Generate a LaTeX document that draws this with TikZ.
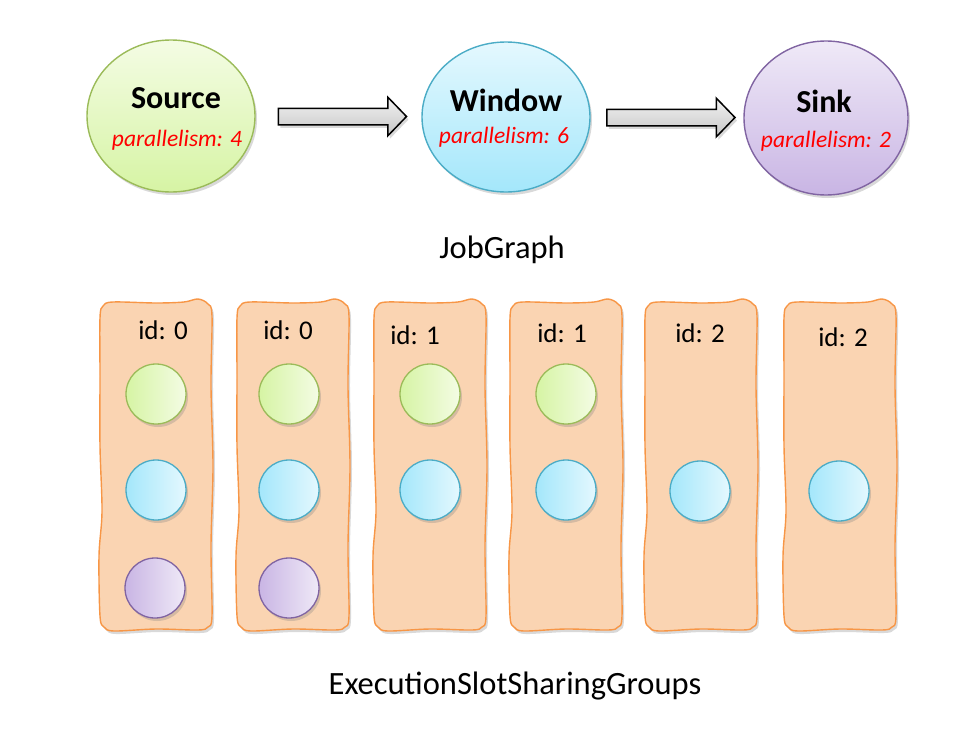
\documentclass[tikz,border=0pt]{standalone}
\usepackage{fontspec}
\setmainfont{Carlito}
\usetikzlibrary{shapes.geometric,shapes.arrows,shadows}

\definecolor{grnline}{HTML}{9BBB59}
\definecolor{grnlite}{HTML}{F4FCE4}
\definecolor{grndark}{HTML}{D6F4A4}
\definecolor{bluline}{HTML}{4BACC6}
\definecolor{blulite}{HTML}{E4F8FE}
\definecolor{bludark}{HTML}{A4E7FB}
\definecolor{purline}{HTML}{8064A2}
\definecolor{purlite}{HTML}{EFE9F7}
\definecolor{purdark}{HTML}{C9B5E4}
\definecolor{slotfill}{HTML}{FAD4B2}
\definecolor{slotline}{HTML}{F79646}

\tikzset{
  softshadow/.style={drop shadow={shadow xshift=2pt, shadow yshift=-3pt, opacity=0.3}},
  jobnode/.style={ellipse, draw, line width=1.4pt, inner sep=0pt, softshadow},
  task/.style={circle, draw, line width=1.3pt, minimum size=60pt, inner sep=0pt, softshadow},
  slotarea/.style={rectangle, minimum width=112pt, minimum height=328pt, inner sep=0pt},
  slotedge/.style={draw=slotline, fill=slotfill, line width=1.4pt, softshadow},
  fatarrow/.style={single arrow, draw=black, line width=1.5pt, inner sep=0pt,
    text height=15pt, text depth=0pt, text width=0pt,
    single arrow head extend=11pt, single arrow tip angle=92,
    minimum height=128pt, top color=gray!10, bottom color=gray!45, softshadow},
  jobtitle/.style={font=\fontsize{32}{32}\selectfont\bfseries},
  partext/.style={text=red, font=\fontsize{23.5}{23.5}\selectfont\itshape},
  idtext/.style={font=\fontsize{27}{27}\selectfont},
  caption/.style={font=\fontsize{32.5}{32.5}\selectfont},
}

% name, x, label x, label y, label
\newcommand\mkslot[5]{\node[slotarea] (#1) at (#2,466) {};
  \draw[slotedge, shift={(#1.center)}] plot[smooth cycle, tension=0.55] coordinates {
    (-56,-148) (-53,-160) (-43,-164) (0,-163) (28,-164) (42,-167) (52,-162) (56,-150)
    (55,-80) (57,0) (55,80) (56,150) (52,161) (42,164) (0,163) (-42,165) (-52,161)
    (-56,150) (-57,90) (-54,45) (-56,-20) (-56,-90)};
  \node[idtext] (#1id) at (#3,#4) {id: #5}; }
% name, position, line, left, right
\newcommand\mktask[5]{\node[task, draw=#3, left color=#4, right color=#5] (#1) at #2 {}; }

\begin{document}
\begin{tikzpicture}[x=1pt, y=-1pt]
    \useasboundingbox (0,0) rectangle (980,736);

    % job graph
    \node[jobnode, draw=grnline, top color=grnlite, bottom color=grndark,
          minimum width=168pt, minimum height=152pt] (src) at (171,116) {};
    \node[jobnode, draw=bluline, top color=blulite, bottom color=bludark,
          minimum width=168pt, minimum height=150pt] (win) at (506,117) {};
    \node[jobnode, draw=purline, top color=purlite, bottom color=purdark,
          minimum width=164pt, minimum height=154pt] (snk) at (826,118) {};

    \node[jobtitle] (srcname) at (176,98) {Source};
    \node[partext]  (srcpar)  at (177,140) {parallelism: 4};
    \node[jobtitle] (winname) at (506,100) {Window};
    \node[partext]  (winpar)  at (504,137) {parallelism: 6};
    \node[jobtitle] (snkname) at (824,101) {Sink};
    \node[partext]  (snkpar)  at (826,141) {parallelism: 2};

    % arrows between vertices
    \path (src) -- node[fatarrow] (a1) {} (win);
    \path (win) -- node[fatarrow] (a2) {} (snk);

    \node[caption] (jg) at (502,250) {JobGraph};

    % slots
    \mkslot{s1}{156}{163}{330}{0}
    \mkslot{s2}{293}{288}{330}{0}
    \mkslot{s3}{430}{415}{335}{1}
    \mkslot{s4}{566}{562}{333}{1}
    \mkslot{s5}{701}{700}{333}{2}
    \mkslot{s6}{840}{843}{337}{2}

    % source subtasks
    \mktask{t1}{(156,394)}{grnline}{grndark}{grnlite}
    \mktask{t2}{(289,394)}{grnline}{grndark}{grnlite}
    \mktask{t3}{(430,394)}{grnline}{grndark}{grnlite}
    \mktask{t4}{(566,394)}{grnline}{grndark}{grnlite}

    % window subtasks
    \mktask{w1}{(156,490)}{bluline}{bludark}{blulite}
    \mktask{w2}{(289,490)}{bluline}{bludark}{blulite}
    \mktask{w3}{(430,490)}{bluline}{bludark}{blulite}
    \mktask{w4}{(566,490)}{bluline}{bludark}{blulite}
    \mktask{w5}{(700,491)}{bluline}{bludark}{blulite}
    \mktask{w6}{(839,491)}{bluline}{bludark}{blulite}

    % sink subtasks
    \mktask{k1}{(155,588)}{purline}{purdark}{purlite}
    \mktask{k2}{(289,588)}{purline}{purdark}{purlite}

    \node[caption] (esg) at (515,686) {ExecutionSlotSharingGroups};
\end{tikzpicture}
\end{document}
